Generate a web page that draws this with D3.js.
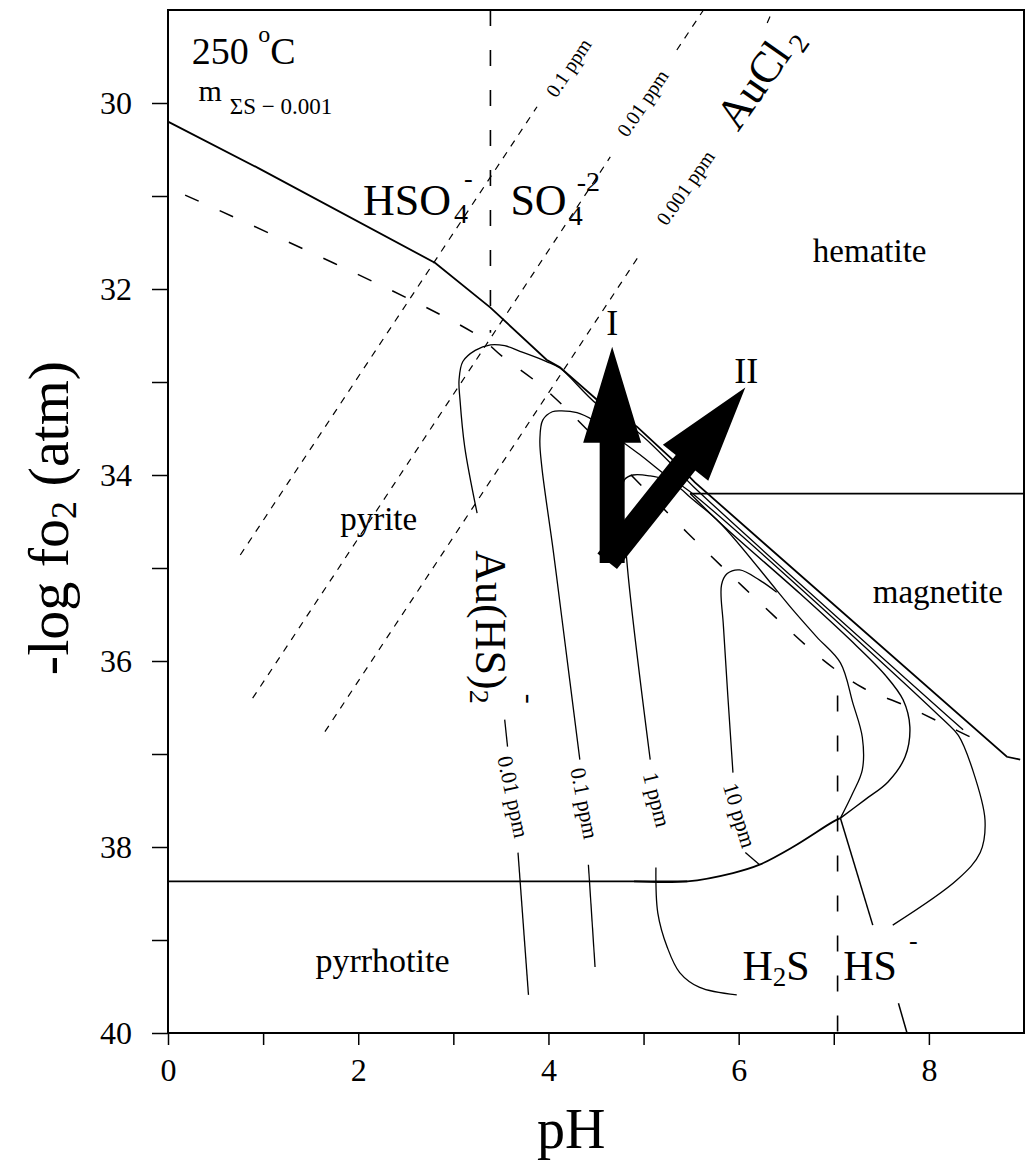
<!DOCTYPE html>
<meta charset="utf-8">
<style>
  body { margin: 0; background: #fff; }
  svg { font-family: "Liberation Serif", "DejaVu Serif", serif; }
</style>
<svg width="1036" height="1162"></svg>
<script src="https://cdn.jsdelivr.net/npm/d3@7/dist/d3.min.js"></script>
<script>

// ---- data (pH, -log fO2) ----
var xTicks = [0, 1, 2, 3, 4, 5, 6, 7, 8];
var yTicks = [30, 31, 32, 33, 34, 35, 36, 37, 38, 39, 40];

// mineral boundaries (solid)
var pyHem = [[0, 30.20], [0.95, 30.70], [2.81, 31.72], [3.39, 32.20], [3.98, 32.76], [4.12, 32.84],
  [4.51, 33.19], [4.93, 33.48], [5.31, 33.84], [5.54, 34.08], [8.82, 37.03], [8.96, 37.06]];
var hemMag = [[5.49, 34.20], [9, 34.20]];
var pyrrhotiteFlat = [[0, 38.37], [5.46, 38.37]];
var pyrrhotiteBend = [[4.9, 38.37], [5.46, 38.37], [5.94, 38.28], [6.22, 38.19], [6.57, 38.00], [6.99, 37.73], [7.07, 37.69]];
var pyMag = [[5.49, 34.20], [5.80, 34.51], [6.65, 35.28], [7.17, 35.77], [7.54, 36.15], [7.73, 36.42],
  [7.80, 36.71], [7.75, 37.03], [7.57, 37.30], [7.33, 37.49], [7.07, 37.69]];
var poMag1 = [[7.07, 37.69], [7.41, 38.84]];
var poMag2 = [[7.68, 39.68], [7.77, 40.0]];

// sulfur species boundaries (long dashes)
var sulfDash = [[0.18, 30.99], [3.21, 32.47], [3.52, 32.73], [3.98, 33.09], [5.46, 34.62], [6.22, 35.37],
  [6.89, 35.99], [7.31, 36.29], [7.73, 36.47], [8.14, 36.67], [8.54, 36.87]];
var hso4so4 = [[3.39, 29.0], [3.39, 32.47]];
var h2shs = [[7.04, 36.37], [7.04, 40.0]];

// AuCl2- solubility contours (short dashes)
var aucl_01 = [[0.76, 34.86], [3.88, 30.04]];
var aucl_001a = [[0.89, 36.40], [4.65, 30.58]];
var aucl_001b = [[5.35, 29.43], [5.63, 29.0]];
var aucl_0001a = [[1.65, 36.76], [4.96, 31.63]];
var aucl_0001b = [[6.30, 29.14], [6.36, 29.0]];

// Au(HS)2- solubility contours (solid)
var auhs_001a = [[8.36, 36.74], [5.52, 34.12], [5.31, 33.90], [4.93, 33.53], [4.51, 33.24], [4.12, 32.85],
  [3.98, 32.78], [3.70, 32.67], [3.54, 32.61], [3.39, 32.60], [3.23, 32.66], [3.10, 32.78], [3.06, 32.98],
  [3.07, 33.19], [3.12, 33.70], [3.25, 34.41]];
var auhs_001b = [[3.54, 36.63], [3.57, 36.92]];
var auhs_001c = [[3.68, 38.06], [3.79, 39.59]];
var auhs_01a = [[4.33, 37.06], [4.14, 35.53], [4.05, 34.81], [3.93, 33.91], [3.91, 33.62], [3.94, 33.41],
  [4.04, 33.32], [4.14, 33.31], [4.30, 33.33], [4.47, 33.41], [4.68, 33.57], [4.96, 33.78], [5.23, 34.00],
  [5.49, 34.18], [8.15, 36.63], [8.31, 36.80], [8.46, 37.17], [8.59, 37.71], [8.54, 38.06], [8.30, 38.35], [7.62, 38.84]];
var auhs_01b = [[4.42, 38.19], [4.49, 39.29]];
var auhs_1a = [[5.07, 37.06], [4.83, 34.99], [4.78, 34.16], [4.80, 34.05], [4.89, 34.00], [5.07, 34.01],
  [5.23, 34.05], [5.38, 34.14], [5.49, 34.24], [5.80, 34.51], [6.40, 35.24], [6.57, 35.45], [6.82, 35.74],
  [7.07, 36.02], [7.20, 36.45], [7.30, 36.82], [7.30, 37.17], [7.20, 37.42], [7.07, 37.69]];
var auhs_1b = [[5.13, 38.22], [5.15, 38.71], [5.25, 39.08], [5.38, 39.35], [5.59, 39.51], [5.98, 39.59]];
var auhs_10a = [[5.94, 37.20], [5.84, 35.63], [5.82, 35.18], [5.88, 35.06], [6.01, 35.02], [6.22, 35.13], [6.40, 35.26]];
var auhs_10b = [[6.07, 38.06], [6.22, 38.19]];

// fluid paths I and II: [start, end]
var pathI = [[4.67, 34.86], [4.67, 32.62]];
var pathII = [[4.67, 34.86], [6.07, 33.06]];

// ---- scales ----
var svg = d3.select("svg");
var x = d3.scaleLinear().domain([0, 9]).range([168, 1024]);
var y = d3.scaleLinear().domain([29, 40]).range([10, 1033]);

var straight = d3.line().x(function(d){ return x(d[0]); }).y(function(d){ return y(d[1]); });
var smooth = d3.line().x(function(d){ return x(d[0]); }).y(function(d){ return y(d[1]); })
  .curve(d3.curveCatmullRom.alpha(0.5));

function draw(pts, w, dash, curved) {
  svg.append("path")
    .attr("d", (curved ? smooth : straight)(pts))
    .attr("fill", "none")
    .attr("stroke", "#000")
    .attr("stroke-width", w)
    .attr("stroke-dasharray", dash || null);
}

// boundaries
draw(pyHem, 1.8);
draw(hemMag, 1.6);
draw(pyrrhotiteFlat, 1.8);
draw(pyrrhotiteBend, 1.8, null, true);
draw(pyMag, 1.4, null, true);
draw(poMag1, 1.5);
draw(poMag2, 1.5);

// long dashes
draw(sulfDash, 1.5, "15,23", true);
draw(hso4so4, 1.6, "16,24");
draw(h2shs, 1.6, "16,24");

// short dashes
[aucl_01, aucl_001a, aucl_001b, aucl_0001a, aucl_0001b].forEach(function(p){ draw(p, 1.2, "7,7"); });

// Au(HS)2- contours
[auhs_001a, auhs_01a, auhs_1a, auhs_10a, auhs_1b].forEach(function(p){ draw(p, 1.3, null, true); });
[auhs_001b, auhs_001c, auhs_01b, auhs_10b].forEach(function(p){ draw(p, 1.3); });

// arrows
function arrow(p) {
  var x0 = x(p[0][0]), y0 = y(p[0][1]), x1 = x(p[1][0]), y1 = y(p[1][1]);
  var L = Math.hypot(x1 - x0, y1 - y0), ux = (x1 - x0) / L, uy = (y1 - y0) / L;
  var nx = -uy, ny = ux, w = 12.5, hl = 96, hw = 29, back = 8;
  var sx = x0 - ux * back, sy = y0 - uy * back, bx = x1 - ux * hl, by = y1 - uy * hl;
  var pts = [[sx + nx * w, sy + ny * w], [bx + nx * w, by + ny * w], [bx + nx * hw, by + ny * hw], [x1, y1],
    [bx - nx * hw, by - ny * hw], [bx - nx * w, by - ny * w], [sx - nx * w, sy - ny * w]];
  svg.append("polygon").attr("points", pts.map(function(q){ return q.join(","); }).join(" ")).attr("fill", "#000");
}
arrow(pathI);
arrow(pathII);

// ---- axes ----
var yAxis = d3.axisLeft(y).tickValues(yTicks).tickSize(16).tickPadding(20)
  .tickFormat(function(d){ return d % 2 ? "" : d; });
var gy = svg.append("g").attr("transform", "translate(168,0)").call(yAxis);
var xAxis = d3.axisBottom(x).tickValues(xTicks).tickSize(12).tickPadding(13)
  .tickFormat(function(d){ return d % 2 ? "" : d; });
var gx = svg.append("g").attr("transform", "translate(0,1033)").call(xAxis);
[gx, gy].forEach(function(g){
  g.select(".domain").remove();
  g.attr("font-family", null).attr("font-size", 32);
  g.selectAll("line").attr("stroke-width", 1.5);
  g.selectAll("text").attr("fill", "#000");
});

svg.append("rect").attr("x", x(0)).attr("y", y(29)).attr("width", x(9) - x(0)).attr("height", y(40) - y(29))
  .attr("fill", "none").attr("stroke", "#000").attr("stroke-width", 2);

// ---- texts ----
function label(px, py, size, rot, anchor) {
  var t = svg.append("text").attr("font-size", size).attr("text-anchor", anchor || "start");
  if (rot) t.attr("transform", "translate(" + x(px) + "," + y(py) + ") rotate(" + rot + ")");
  else t.attr("x", x(px)).attr("y", y(py));
  return t;
}

svg.append("text").attr("font-size", 56).attr("text-anchor", "middle")
  .attr("x", x(4.24)).attr("y", 1148).text("pH");
var yt = svg.append("text").attr("font-size", 58).attr("text-anchor", "middle")
  .attr("transform", "translate(68,518) rotate(-90)");
yt.append("tspan").text("-log fo");
yt.append("tspan").attr("font-size", 36).attr("dy", 8).text("2");
yt.append("tspan").attr("dy", -8).text(" (atm)");

var tc = label(0.25, 29.58, 38);
tc.append("tspan").text("250 ");
tc.append("tspan").attr("font-size", 24).attr("dy", -22).text("o");
tc.append("tspan").attr("dy", 22).text("C");
var tm = label(0.32, 29.98, 30);
tm.append("tspan").text("m");
tm.append("tspan").attr("font-size", 23).attr("dx", 8).attr("dy", 13).text("ΣS − 0.001");

label(6.78, 31.71, 33).text("hematite");
label(7.41, 35.38, 33).text("magnetite");
label(1.81, 34.59, 33).text("pyrite");
label(1.55, 39.34, 34).text("pyrrhotite");

var t1 = label(2.05, 31.20, 44);
t1.append("tspan").text("HSO");
t1.append("tspan").attr("font-size", 28).attr("dx", 3).attr("dy", 8).text("4");
t1.append("tspan").attr("font-size", 26).attr("dx", -4).attr("dy", -36).text("-");
var t2 = label(3.60, 31.20, 44);
t2.append("tspan").text("SO");
t2.append("tspan").attr("font-size", 28).attr("dx", 2).attr("dy", 10).text("4");
t2.append("tspan").attr("font-size", 28).attr("dx", -6).attr("dy", -34).text("-2");
var t3 = label(6.04, 39.43, 42);
t3.append("tspan").text("H");
t3.append("tspan").attr("font-size", 27).attr("dy", 6).text("2");
t3.append("tspan").attr("dy", -6).text("S");
var t4 = label(7.10, 39.43, 42);
t4.append("tspan").text("HS");
t4.append("tspan").attr("font-size", 26).attr("dx", 12).attr("dy", -31).text("-");

var t5 = label(3.24, 34.81, 44, 90);
t5.append("tspan").text("Au(HS)");
t5.append("tspan").attr("font-size", 28).attr("dy", 6).text("2");
t5.append("tspan").attr("font-size", 30).attr("dx", -10).attr("dy", -50).text("-");

var t6 = label(6.34, 29.81, 44, -55, "middle");
t6.append("tspan").text("AuCl");
t6.append("tspan").attr("font-size", 28).attr("dx", 6).attr("dy", 8).text("2");

label(4.21, 29.62, 20, -56.5, "middle").attr("dominant-baseline", "central").text("0.1 ppm");
label(4.99, 30.00, 20, -56, "middle").attr("dominant-baseline", "central").text("0.01 ppm");
label(5.44, 30.91, 20, -55, "middle").attr("dominant-baseline", "central").text("0.001 ppm");

label(3.63, 37.46, 22, 78, "middle").attr("dominant-baseline", "central").text("0.01 ppm");
label(4.38, 37.53, 22, 79, "middle").attr("dominant-baseline", "central").text("0.1 ppm");
label(5.14, 37.49, 22, 76, "middle").attr("dominant-baseline", "central").text("1 ppm");
label(6.01, 37.66, 22, 73, "middle").attr("dominant-baseline", "central").text("10 ppm");

label(4.67, 32.49, 36, 0, "middle").text("I");
label(6.08, 33.01, 36, 0, "middle").text("II");

</script>
